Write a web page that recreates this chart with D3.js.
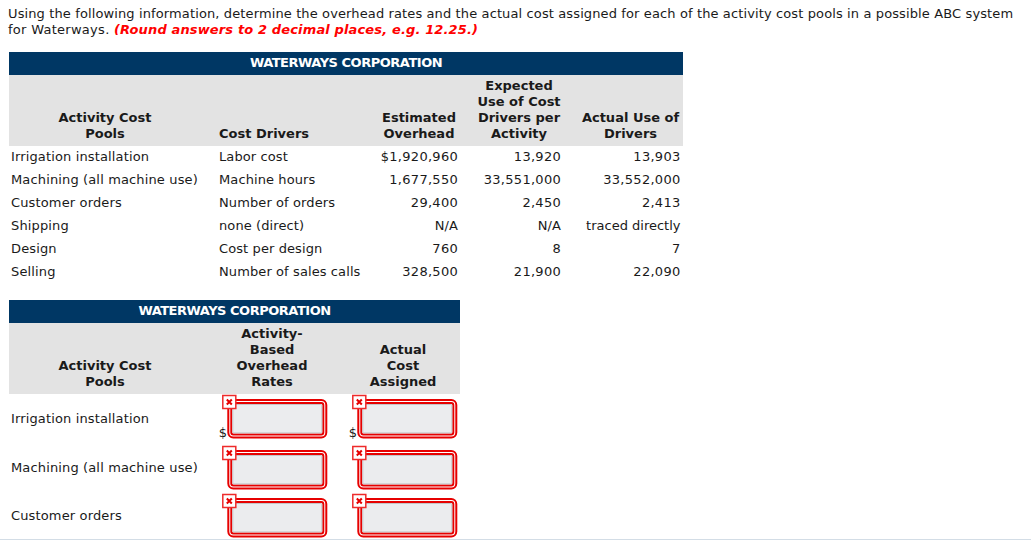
<!DOCTYPE html>
<html><head><meta charset="utf-8">
<script src="https://cdn.jsdelivr.net/npm/d3@7"></script>
<style>html,body{margin:0;background:#fff}svg{display:block}text{font-family:"DejaVu Sans",Verdana,sans-serif;font-size:13px;fill:#1a1a1a}</style>
</head><body><svg id="c" width="1031" height="540"></svg>
<script>
const title1 = "WATERWAYS CORPORATION";
const introLine1 = "Using the following information, determine the overhead rates and the actual cost assigned for each of the activity cost pools in a possible ABC system";
const introLine2 = "for Waterways. ";
const introNote = "(Round answers to 2 decimal places, e.g. 12.25.)";
const pools = ["Irrigation installation","Machining (all machine use)","Customer orders","Shipping","Design","Selling"];
const drivers = ["Labor cost","Machine hours","Number of orders","none (direct)","Cost per design","Number of sales calls"];
const estimatedOverhead = ["$1,920,960","1,677,550","29,400","N/A","760","328,500"];
const expectedUse = ["13,920","33,551,000","2,450","N/A","8","21,900"];
const actualUse = ["13,903","33,552,000","2,413","traced directly","7","22,090"];
const headerTop = [["Activity Cost","Pools"],["Cost Drivers"],["Estimated","Overhead"],["Expected","Use of Cost","Drivers per","Activity"],["Actual Use of","Drivers"]];
const headerBottom = [["Activity Cost","Pools"],["Activity-","Based","Overhead","Rates"],["Actual","Cost","Assigned"]];
const answerPools = ["Irrigation installation","Machining (all machine use)","Customer orders"];
const currency = ["$","",""];

const svg = d3.select("#c");
const navy="#003764", grey="#e3e3e3", red="#e60000";
const put=(sel,x,y,t,o={})=>sel.append("text").attr("x",x).attr("y",y).attr("text-anchor",o.a||"start")
  .style("font-weight",o.b?"bold":null).style("font-style",o.i?"italic":null).style("fill",o.c||null)
  .style("letter-spacing",o.ls?o.ls+"px":null).text(t);

const intro=svg.append("g");
put(intro,8,18,introLine1,{ls:.12});
const l2=intro.append("text").attr("x",8).attr("y",33.5);
l2.append("tspan").style("letter-spacing",".28px").text(introLine2);
l2.append("tspan").style("font-weight","bold").style("font-style","italic").style("fill","#f00").style("letter-spacing",".14px").text(introNote);

function band(x,w,yTop){
  svg.append("rect").attr("x",x).attr("y",yTop).attr("width",w).attr("height",23).attr("fill",navy);
  svg.append("rect").attr("x",x).attr("y",yTop+23).attr("width",w).attr("height",71).attr("fill",grey);
}
function headers(hdrs,xs,anchors,bottomY){
  hdrs.forEach((lines,i)=>{
    lines.forEach((t,j)=>put(svg,xs[i],bottomY-(lines.length-1-j)*16,t,{b:1,a:anchors[i]}));
  });
}
// Top table
band(9,674,52);
put(svg,346,67,title1,{b:1,a:"middle",c:"#fff",ls:-.48});
headers(headerTop,[105,219,419,519,630.5],["middle","start","middle","middle","middle"],138);
const rowY=d3.scalePoint().domain(d3.range(pools.length)).range([161,276]);
const spacing=d=>/\d/.test(d)?.28:(d==="N/A"?.1:(d==="traced directly"?0:.1));
const cols=[[pools,11,"start"],[drivers,219,"start"],[estimatedOverhead,458,"end"],[expectedUse,561,"end"],[actualUse,680.5,"end"]];
cols.forEach(([vals,x,a],k)=>{
  svg.append("g").selectAll("text").data(vals).join("text")
    .attr("x",x).attr("y",(d,i)=>rowY(i)).attr("text-anchor",a).style("letter-spacing",d=>(k===0?.14:spacing(d))+"px").text(d=>d);
});
// Bottom table
band(9,451,300);
put(svg,234.5,315,title1,{b:1,a:"middle",c:"#fff",ls:-.48});
headers(headerBottom,[105,272,403],["middle","middle","middle"],386);
const ansLabelY=[423,472,520], boxY=[399,450,498];
svg.append("g").selectAll("text").data(answerPools).join("text").attr("x",11).attr("y",(d,i)=>ansLabelY[i]).style("letter-spacing",".14px").text(d=>d);

function box(x,y,cur){
  const g=svg.append("g");
  g.append("rect").attr("x",x+1).attr("y",y+1).attr("width",98).attr("height",37.4).attr("rx",5).attr("fill","#fff").attr("stroke",red).attr("stroke-width",2);
  g.append("rect").attr("x",x+4).attr("y",y+4).attr("width",92).attr("height",31.4).attr("rx",2).attr("fill","#fff").attr("stroke",red).attr("stroke-width",2);
  g.append("rect").attr("x",x+5.5).attr("y",y+5.5).attr("width",89).attr("height",28.4).attr("rx",1).attr("fill","#ebecee").attr("stroke","#c4c6c9").attr("stroke-width",1);
  g.append("rect").attr("x",x-4.5).attr("y",y-3.5).attr("width",13).attr("height",13).attr("fill","#fff").attr("stroke","#ee2b2b").attr("stroke-width",1.5);
  g.append("path").attr("d",`M${x-.5},${y+.5}L${x+4.5},${y+5.5}M${x+4.5},${y+.5}L${x-.5},${y+5.5}`).attr("stroke",red).attr("stroke-width",2).attr("fill","none");
  if(cur) put(g,x-8.5,y+38,cur);
}
[227.3,357.3].forEach(x=>boxY.forEach((y,i)=>box(x,y,currency[i])));
svg.append("rect").attr("x",0).attr("y",539).attr("width",1031).attr("height",1).attr("fill","#d3dde6");
</script></body></html>
